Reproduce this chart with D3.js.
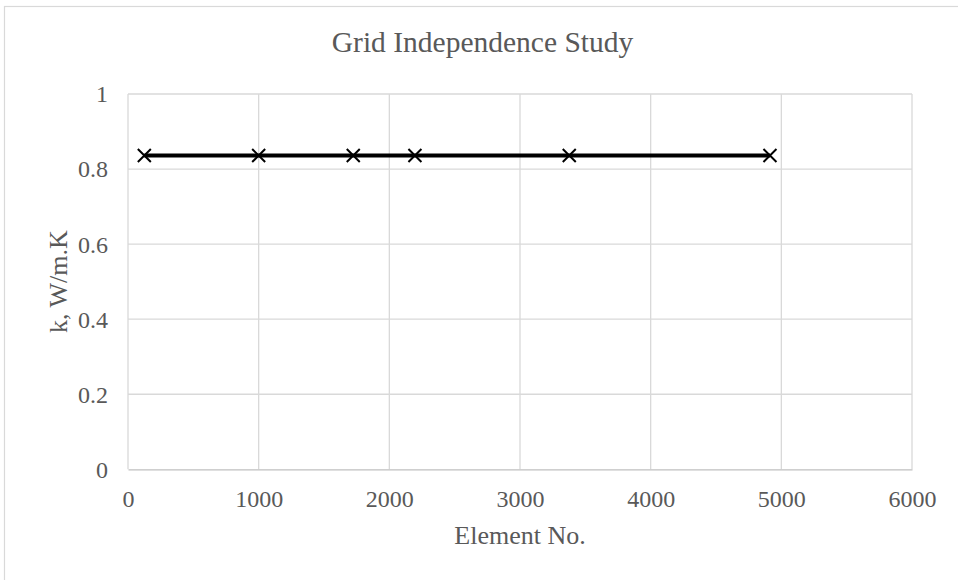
<!DOCTYPE html>
<html>
<head>
<meta charset="utf-8">
<script src="https://cdn.jsdelivr.net/npm/d3@7"></script>
<style>
  html, body { margin: 0; padding: 0; background: #fff; }
  svg { display: block; }
  text { font-family: "Liberation Serif", "Times New Roman", serif; fill: #595959; }
</style>
</head>
<body>
<svg id="chart" width="958" height="580"></svg>
<script>
const chartTitle = "Grid Independence Study";
const xAxisTitle = "Element No.";
const yAxisTitle = "k, W/m.K";
const elements = [125, 1000, 1724, 2196, 3377, 4913];
const kValues = [0.836, 0.836, 0.836, 0.836, 0.836, 0.836];
const xTicks = [0, 1000, 2000, 3000, 4000, 5000, 6000];
const yTicks = [0, 0.2, 0.4, 0.6, 0.8, 1];

const svg = d3.select("#chart");
const W = 958, H = 580;
const plot = { left: 128, right: 912, top: 94, bottom: 469.3 };

svg.append("rect").attr("width", W).attr("height", H).attr("fill", "#fff");
svg.append("rect")
  .attr("x", 4.5).attr("y", 6.5).attr("width", W + 10).attr("height", H + 10)
  .attr("fill", "none").attr("stroke", "#d9d9d9").attr("stroke-width", 1.2);

const x = d3.scaleLinear().domain([0, 6000]).range([plot.left, plot.right]);
const y = d3.scaleLinear().domain([0, 1]).range([plot.bottom, plot.top]);

// gridlines
const grid = svg.append("g");
grid.selectAll("line.h").data(yTicks.filter(d => d > 0)).enter().append("line")
  .attr("x1", plot.left).attr("x2", plot.right)
  .attr("y1", d => y(d)).attr("y2", d => y(d))
  .attr("stroke", "#d9d9d9").attr("stroke-width", 1.3);
grid.selectAll("line.v").data(xTicks).enter().append("line")
  .attr("x1", d => x(d)).attr("x2", d => x(d))
  .attr("y1", plot.top).attr("y2", plot.bottom)
  .attr("stroke", "#d9d9d9").attr("stroke-width", 1.3);

// x axis
const xAxis = svg.append("g").attr("transform", `translate(0,${plot.bottom})`)
  .call(d3.axisBottom(x).tickValues(xTicks).tickSize(0).tickPadding(0).tickFormat(d3.format("d")));
xAxis.select(".domain").attr("stroke", "#bfbfbf").attr("stroke-width", 1.3);
xAxis.selectAll("text").attr("y", 37.5).attr("dy", null).attr("font-size", 24)
  .style("font-family", "Liberation Serif").attr("fill", "#595959");

// y axis
const yAxis = svg.append("g").attr("transform", `translate(${plot.left},0)`)
  .call(d3.axisLeft(y).tickValues(yTicks).tickSize(0).tickPadding(0).tickFormat(d => d3.format("")(+d.toFixed(1))));
yAxis.select(".domain").remove();
yAxis.selectAll("text").attr("x", -20).attr("dy", "0.33em").attr("font-size", 24)
  .style("font-family", "Liberation Serif").attr("fill", "#595959");

// titles
svg.append("text").attr("x", 482.5).attr("y", 52).attr("text-anchor", "middle")
  .attr("font-size", 29.5).text(chartTitle);
svg.append("text").attr("x", (plot.left + plot.right) / 2).attr("y", 544).attr("text-anchor", "middle")
  .attr("font-size", 26).text(xAxisTitle);
svg.append("text").attr("transform", `translate(67,${(plot.top + plot.bottom) / 2}) rotate(-90)`)
  .attr("text-anchor", "middle").attr("font-size", 26).text(yAxisTitle);

// series
const pts = elements.map((e, i) => ({ e, k: kValues[i] }));
svg.append("path").datum(pts)
  .attr("fill", "none").attr("stroke", "#000").attr("stroke-width", 4)
  .attr("d", d3.line().x(d => x(d.e)).y(d => y(d.k)));

const s = 6.5;
const mk = svg.append("g").selectAll("g").data(pts).enter().append("g")
  .attr("transform", d => `translate(${x(d.e)},${y(d.k)})`);
mk.append("path").attr("d", `M${-s},${-s}L${s},${s}M${-s},${s}L${s},${-s}`)
  .attr("stroke", "#000").attr("stroke-width", 2).attr("fill", "none");
</script>
</body>
</html>
